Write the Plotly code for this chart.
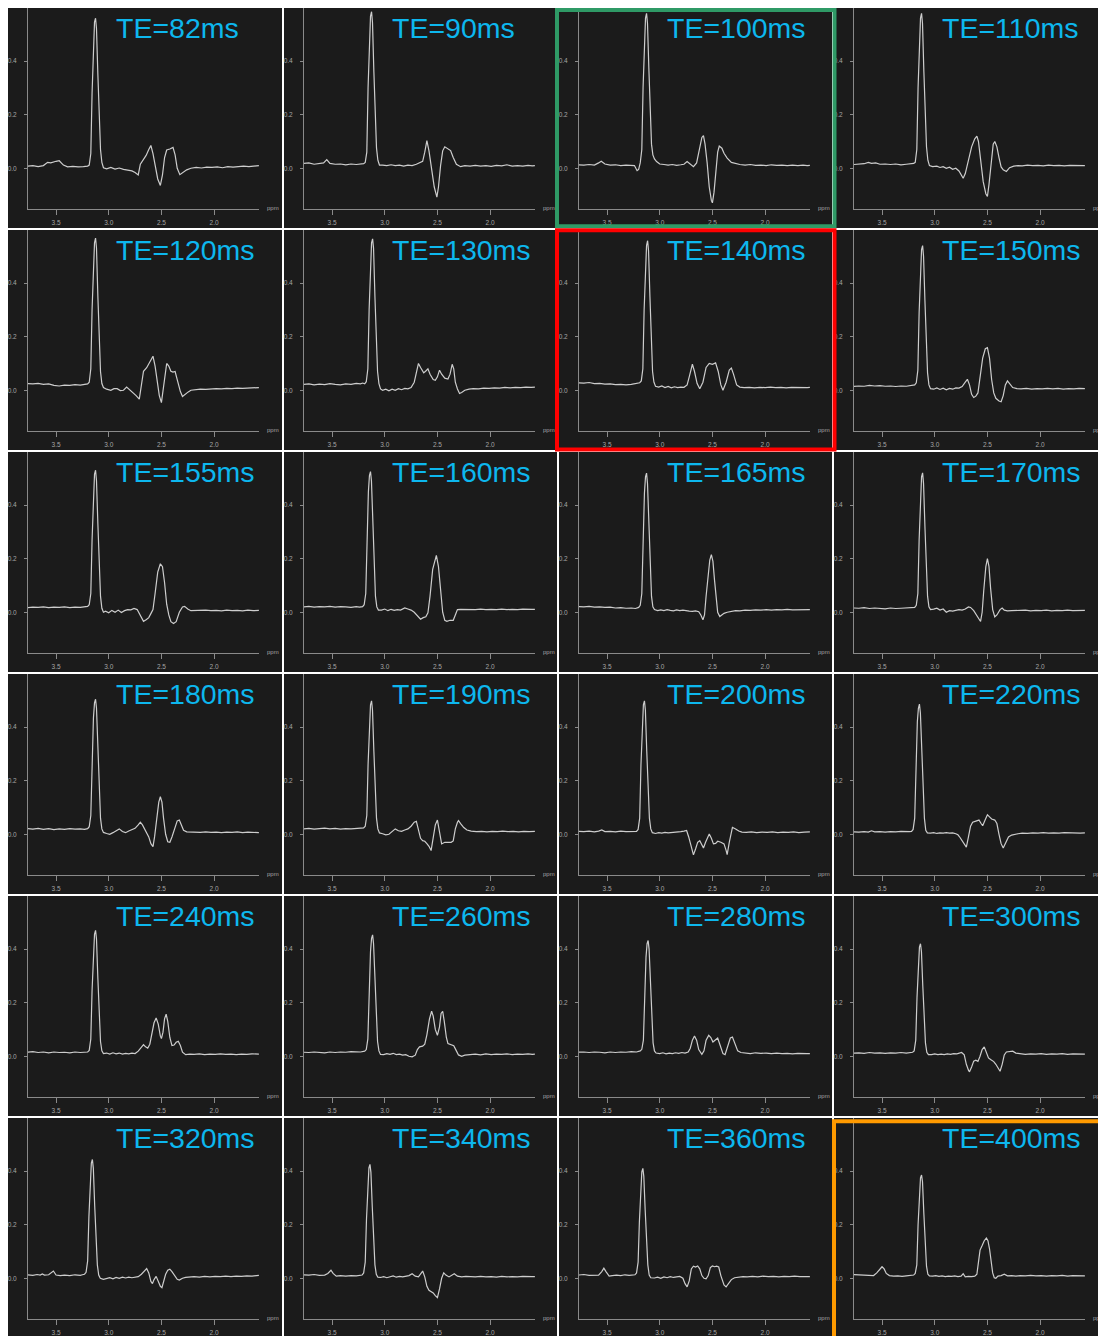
import plotly.graph_objects as go

# ---------------- data (ppm, signal) ----------------
te_labels = ["TE=82ms", "TE=90ms", "TE=100ms", "TE=110ms",
             "TE=120ms", "TE=130ms", "TE=140ms", "TE=150ms",
             "TE=155ms", "TE=160ms", "TE=165ms", "TE=170ms",
             "TE=180ms", "TE=190ms", "TE=200ms", "TE=220ms",
             "TE=240ms", "TE=260ms", "TE=280ms", "TE=300ms",
             "TE=320ms", "TE=340ms", "TE=360ms", "TE=400ms"]

x_tick_vals = [3.5, 3.0, 2.5, 2.0]
x_tick_text = ["3.5", "3.0", "2.5", "2.0"]
y_tick_vals = [0.0, 0.2, 0.4]
y_tick_text = ["0.0", "0.2", "0.4"]

spec_82 = [(3.77,0.008),(3.72,0.010),(3.67,0.006),(3.62,0.010),(3.58,0.022),(3.55,0.020),(3.50,0.026),(3.47,0.028),(3.43,0.012),(3.39,0.005),(3.34,0.007),(3.29,0.005),(3.24,0.006),
    (3.20,0.008),(3.185,0.012),(3.17,0.055),(3.158,0.28),(3.145,0.48),(3.135,0.545),(3.125,0.56),(3.116,0.52),(3.103,0.35),(3.09,0.18),(3.078,0.07),(3.065,0.022),(3.05,0.002),
    (3.02,-0.002),(2.98,0.003),(2.94,-0.003),(2.90,0.001),(2.86,-0.004),(2.82,-0.006),(2.78,-0.010),(2.75,-0.016),(2.72,-0.025),(2.70,0.015),(2.67,0.032),(2.645,0.048),(2.62,0.07),(2.60,0.085),(2.58,0.055),(2.56,0.005),(2.535,-0.04),(2.51,-0.064),(2.49,-0.025),(2.47,0.04),(2.45,0.068),(2.42,0.072),(2.39,0.078),(2.37,0.05),(2.35,0.0),(2.325,-0.024),(2.30,-0.018),(2.26,-0.006),(2.22,0.0),
    (2.17,0.003),(2.12,0.001),(2.07,0.004),(2.02,0.003),(1.97,0.005),(1.92,0.002),(1.87,0.006),(1.82,0.004),(1.77,0.005),(1.72,0.008),(1.67,0.006),(1.62,0.009),(1.575,0.010)]

spec_90 = [(3.77,0.018),(3.72,0.020),(3.67,0.015),(3.62,0.018),(3.58,0.020),(3.55,0.032),(3.52,0.018),(3.47,0.015),(3.42,0.016),(3.37,0.013),(3.32,0.016),(3.27,0.014),(3.23,0.016),(3.20,0.017),(3.185,0.022),
    (3.17,0.06),(3.158,0.30),(3.145,0.50),(3.135,0.567),(3.125,0.584),(3.116,0.543),(3.103,0.36),(3.09,0.19),(3.078,0.076),(3.065,0.03),(3.05,0.012),
    (3.02,0.012),(2.98,0.010),(2.94,0.013),(2.90,0.010),(2.86,0.012),(2.82,0.008),(2.78,0.012),(2.74,0.010),(2.70,0.015),(2.67,0.02),(2.64,0.026),(2.62,0.06),(2.60,0.103),(2.58,0.065),(2.555,-0.01),(2.53,-0.07),(2.505,-0.108),(2.49,-0.07),(2.47,0.01),(2.45,0.065),(2.43,0.08),(2.40,0.073),(2.375,0.066),(2.35,0.04),(2.32,0.015),(2.28,0.006),(2.24,0.01),
    (2.19,0.008),(2.14,0.011),(2.09,0.008),(2.04,0.010),(1.99,0.007),(1.94,0.011),(1.89,0.009),(1.84,0.013),(1.79,0.008),(1.74,0.010),(1.69,0.008),(1.64,0.011),(1.60,0.009),(1.575,0.010)]

spec_100 = [(3.77,0.013),(3.72,0.012),(3.67,0.014),(3.62,0.012),(3.58,0.020),(3.555,0.026),(3.52,0.016),(3.47,0.012),(3.42,0.013),(3.37,0.010),(3.32,0.012),(3.27,0.011),(3.24,0.010),(3.215,-0.009),(3.20,-0.004),(3.185,0.02),
    (3.17,0.07),(3.158,0.30),(3.145,0.50),(3.135,0.56),(3.125,0.578),(3.116,0.54),(3.103,0.37),(3.09,0.2),(3.078,0.09),(3.065,0.05),(3.05,0.035),
    (3.03,0.025),(3.00,0.016),(2.96,0.014),(2.92,0.012),(2.88,0.014),(2.84,0.011),(2.80,0.013),(2.77,0.015),(2.74,0.025),(2.72,0.018),(2.68,0.006),(2.65,0.02),(2.62,0.07),(2.60,0.115),(2.585,0.122),(2.57,0.09),(2.55,0.02),(2.53,-0.07),(2.51,-0.12),(2.50,-0.129),(2.485,-0.09),(2.47,-0.01),(2.45,0.06),(2.435,0.083),(2.41,0.075),(2.39,0.056),(2.36,0.038),(2.32,0.022),(2.28,0.017),(2.24,0.014),
    (2.19,0.012),(2.14,0.014),(2.09,0.011),(2.04,0.012),(1.99,0.010),(1.94,0.013),(1.89,0.011),(1.84,0.012),(1.79,0.010),(1.74,0.012),(1.69,0.010),(1.64,0.012),(1.60,0.010),(1.575,0.011)]

spec_110 = [(3.77,0.014),(3.72,0.015),(3.67,0.017),(3.63,0.022),(3.60,0.018),(3.56,0.020),(3.52,0.015),(3.47,0.016),(3.42,0.014),(3.37,0.016),(3.32,0.013),(3.27,0.015),(3.23,0.017),(3.20,0.018),(3.185,0.022),
    (3.17,0.07),(3.158,0.30),(3.145,0.50),(3.135,0.56),(3.125,0.578),(3.116,0.54),(3.103,0.36),(3.09,0.19),(3.078,0.08),(3.065,0.03),(3.05,0.01),
    (3.02,0.006),(2.98,0.008),(2.95,0.003),(2.92,0.006),(2.89,0.0),(2.86,0.004),(2.83,-0.004),(2.80,0.0),(2.77,-0.01),(2.75,-0.025),(2.73,-0.037),(2.71,-0.02),(2.68,0.03),(2.65,0.08),(2.62,0.11),(2.60,0.12),(2.585,0.1),(2.565,0.03),(2.54,-0.05),(2.515,-0.095),(2.50,-0.105),(2.485,-0.06),(2.465,0.03),(2.445,0.09),(2.43,0.10),(2.41,0.08),(2.39,0.04),(2.37,0.005),(2.35,-0.006),(2.32,-0.012),(2.29,0.002),(2.25,0.008),(2.21,0.010),
    (2.17,0.009),(2.12,0.012),(2.07,0.010),(2.02,0.011),(1.97,0.009),(1.92,0.012),(1.87,0.010),(1.82,0.011),(1.77,0.009),(1.72,0.011),(1.67,0.010),(1.62,0.009),(1.575,0.010)]

spec_120 = [(3.77,0.025),(3.72,0.024),(3.67,0.026),(3.62,0.022),(3.57,0.024),(3.52,0.018),(3.47,0.016),(3.42,0.019),(3.37,0.018),(3.32,0.021),(3.27,0.019),(3.23,0.022),(3.20,0.024),(3.185,0.03),
    (3.17,0.08),(3.158,0.30),(3.145,0.49),(3.135,0.55),(3.125,0.568),(3.116,0.53),(3.103,0.35),(3.09,0.18),(3.078,0.07),(3.065,0.025),(3.05,0.01),
    (3.02,0.004),(2.98,0.0),(2.95,0.006),(2.92,0.006),(2.89,-0.001),(2.86,0.0),(2.83,0.012),(2.80,0.002),(2.77,-0.009),(2.74,-0.02),(2.71,-0.033),(2.69,0.03),(2.67,0.071),(2.64,0.084),(2.61,0.105),(2.58,0.127),(2.56,0.09),(2.54,0.04),(2.52,-0.02),(2.50,-0.046),(2.48,0.02),(2.45,0.10),(2.43,0.09),(2.41,0.071),(2.39,0.068),(2.37,0.07),(2.35,0.04),(2.32,-0.005),(2.30,-0.023),(2.27,-0.012),(2.245,-0.006),(2.22,0.0),
    (2.18,0.002),(2.13,0.004),(2.08,0.003),(2.03,0.005),(1.98,0.006),(1.93,0.005),(1.88,0.007),(1.83,0.006),(1.78,0.008),(1.73,0.007),(1.68,0.008),(1.63,0.009),(1.575,0.010)]

spec_130 = [(3.77,0.022),(3.72,0.024),(3.67,0.020),(3.62,0.023),(3.57,0.021),(3.52,0.025),(3.47,0.022),(3.42,0.020),(3.37,0.024),(3.32,0.022),(3.27,0.026),(3.23,0.024),(3.21,0.027),
    (3.19,0.024),(3.175,0.032),(3.16,0.08),(3.148,0.30),(3.135,0.49),(3.125,0.55),(3.115,0.565),(3.106,0.53),(3.093,0.35),(3.08,0.18),(3.068,0.07),(3.055,0.025),(3.04,0.005),
    (3.02,0.0),(2.99,0.004),(2.96,-0.002),(2.93,0.004),(2.90,0.0),(2.87,0.006),(2.84,0.002),(2.81,0.007),(2.78,0.005),(2.75,0.01),(2.72,0.03),(2.70,0.07),(2.68,0.10),(2.66,0.085),(2.63,0.065),(2.61,0.072),(2.59,0.08),(2.57,0.06),(2.54,0.04),(2.52,0.037),(2.50,0.05),(2.48,0.075),(2.46,0.06),(2.43,0.045),(2.40,0.042),(2.38,0.06),(2.36,0.097),(2.345,0.08),(2.33,0.03),(2.31,0.005),(2.29,-0.012),(2.27,-0.008),(2.24,0.0),(2.20,0.004),
    (2.16,0.006),(2.11,0.005),(2.06,0.008),(2.01,0.007),(1.96,0.009),(1.91,0.008),(1.86,0.011),(1.81,0.009),(1.76,0.011),(1.71,0.010),(1.66,0.012),(1.61,0.011),(1.575,0.012)]

spec_140 = [(3.77,0.028),(3.72,0.027),(3.67,0.029),(3.62,0.025),(3.57,0.026),(3.52,0.023),(3.47,0.024),(3.42,0.021),(3.37,0.022),(3.32,0.020),(3.27,0.022),(3.23,0.024),(3.19,0.028),(3.175,0.035),
    (3.16,0.08),(3.148,0.30),(3.135,0.48),(3.125,0.54),(3.115,0.558),(3.106,0.52),(3.093,0.35),(3.08,0.18),(3.068,0.07),(3.055,0.03),(3.04,0.015),
    (3.01,0.012),(2.98,0.016),(2.95,0.010),(2.92,0.014),(2.89,0.009),(2.86,0.013),(2.83,0.010),(2.80,0.012),(2.77,0.011),(2.74,0.02),(2.72,0.05),(2.70,0.09),(2.69,0.097),(2.67,0.07),(2.645,0.025),(2.62,0.006),(2.59,0.03),(2.56,0.085),(2.53,0.10),(2.50,0.097),(2.47,0.102),(2.445,0.07),(2.42,0.02),(2.40,0.0),(2.37,0.03),(2.34,0.075),(2.32,0.083),(2.30,0.06),(2.27,0.02),(2.24,0.012),(2.20,0.010),
    (2.15,0.011),(2.10,0.009),(2.05,0.011),(2.00,0.010),(1.95,0.012),(1.90,0.010),(1.85,0.011),(1.80,0.009),(1.75,0.011),(1.70,0.010),(1.65,0.011),(1.60,0.010),(1.575,0.011)]

spec_150 = [(3.77,0.014),(3.72,0.016),(3.67,0.015),(3.62,0.018),(3.57,0.016),(3.52,0.017),(3.47,0.015),(3.42,0.016),(3.37,0.014),(3.32,0.016),(3.27,0.015),(3.23,0.017),(3.19,0.02),(3.175,0.028),
    (3.16,0.075),(3.148,0.29),(3.135,0.465),(3.125,0.525),(3.115,0.54),(3.106,0.50),(3.093,0.335),(3.08,0.17),(3.068,0.065),(3.055,0.02),(3.04,0.006),
    (3.01,0.004),(2.98,0.009),(2.95,0.003),(2.92,0.008),(2.89,0.002),(2.86,0.007),(2.83,0.004),(2.80,0.009),(2.77,0.008),(2.74,0.014),(2.71,0.03),(2.69,0.041),(2.67,0.02),(2.65,-0.015),(2.63,-0.027),(2.61,-0.022),(2.59,-0.01),(2.57,0.04),(2.545,0.12),(2.52,0.155),(2.50,0.159),(2.48,0.12),(2.46,0.04),(2.44,-0.01),(2.42,-0.03),(2.39,-0.04),(2.37,-0.043),(2.35,-0.02),(2.33,0.02),(2.31,0.035),(2.29,0.025),(2.26,0.01),(2.22,0.006),
    (2.18,0.005),(2.13,0.007),(2.08,0.004),(2.03,0.006),(1.98,0.005),(1.93,0.007),(1.88,0.005),(1.83,0.007),(1.78,0.004),(1.73,0.006),(1.68,0.005),(1.63,0.007),(1.575,0.006)]

spec_155 = [(3.77,0.017),(3.72,0.019),(3.67,0.018),(3.62,0.020),(3.57,0.017),(3.52,0.019),(3.47,0.018),(3.42,0.020),(3.37,0.017),(3.32,0.019),(3.27,0.018),(3.23,0.020),(3.20,0.022),(3.185,0.028),
    (3.17,0.07),(3.158,0.27),(3.145,0.455),(3.135,0.515),(3.125,0.53),(3.116,0.49),(3.103,0.33),(3.09,0.17),(3.078,0.06),(3.065,0.015),(3.05,0.0),
    (3.03,0.004),(3.00,-0.002),(2.97,0.007),(2.94,0.0),(2.91,0.008),(2.88,-0.001),(2.85,0.006),(2.82,0.01),(2.79,0.009),(2.76,0.014),(2.73,0.01),(2.70,-0.01),(2.67,-0.034),(2.645,-0.028),(2.62,-0.02),(2.60,-0.005),(2.58,0.01),(2.56,0.07),(2.535,0.15),(2.51,0.181),(2.49,0.17),(2.47,0.11),(2.45,0.03),(2.43,-0.01),(2.41,-0.035),(2.385,-0.042),(2.36,-0.035),(2.33,0.0),(2.30,0.02),(2.28,0.022),(2.25,0.012),(2.22,0.006),
    (2.18,0.007),(2.13,0.006),(2.08,0.008),(2.03,0.006),(1.98,0.007),(1.93,0.005),(1.88,0.008),(1.83,0.006),(1.78,0.007),(1.73,0.005),(1.68,0.008),(1.63,0.006),(1.575,0.007)]

spec_160 = [(3.77,0.020),(3.72,0.022),(3.67,0.019),(3.62,0.021),(3.57,0.020),(3.52,0.022),(3.47,0.019),(3.42,0.021),(3.37,0.020),(3.32,0.018),(3.27,0.021),(3.24,0.019),
    (3.21,0.021),(3.195,0.028),(3.18,0.07),(3.168,0.27),(3.155,0.45),(3.145,0.51),(3.135,0.525),(3.126,0.49),(3.113,0.33),(3.10,0.17),(3.088,0.06),(3.075,0.02),(3.06,0.008),
    (3.03,0.008),(3.00,0.012),(2.97,0.006),(2.94,0.011),(2.91,0.007),(2.88,0.010),(2.85,0.008),(2.81,0.016),(2.78,0.012),(2.75,0.008),(2.72,0.0),(2.69,-0.015),(2.66,-0.026),(2.635,-0.02),(2.61,-0.017),(2.59,-0.002),(2.57,0.06),(2.545,0.16),(2.52,0.205),(2.51,0.212),(2.49,0.17),(2.47,0.08),(2.45,0.0),(2.43,-0.03),(2.41,-0.034),(2.38,-0.03),(2.35,-0.03),(2.33,-0.01),(2.31,0.01),(2.28,0.011),(2.24,0.010),
    (2.19,0.011),(2.14,0.010),(2.09,0.012),(2.04,0.010),(1.99,0.011),(1.94,0.010),(1.89,0.012),(1.84,0.010),(1.79,0.011),(1.74,0.010),(1.69,0.012),(1.64,0.010),(1.60,0.011),(1.575,0.011)]

spec_165 = [(3.77,0.021),(3.72,0.020),(3.67,0.022),(3.62,0.019),(3.57,0.020),(3.52,0.018),(3.47,0.019),(3.42,0.016),(3.37,0.017),(3.32,0.015),(3.27,0.016),(3.23,0.014),(3.20,0.018),(3.185,0.026),
    (3.17,0.07),(3.158,0.27),(3.145,0.445),(3.135,0.505),(3.125,0.519),(3.116,0.48),(3.103,0.32),(3.09,0.16),(3.078,0.06),(3.065,0.02),(3.05,0.01),
    (3.02,0.006),(2.99,0.009),(2.96,0.006),(2.93,0.010),(2.90,0.007),(2.87,0.005),(2.84,0.009),(2.81,0.006),(2.78,0.008),(2.75,0.005),(2.72,0.004),(2.69,0.003),(2.66,0.005),(2.63,0.002),(2.61,-0.01),(2.59,-0.028),(2.575,-0.01),(2.56,0.06),(2.545,0.13),(2.525,0.195),(2.51,0.215),(2.495,0.19),(2.48,0.12),(2.465,0.05),(2.45,0.0),(2.43,-0.016),(2.41,-0.01),(2.39,-0.004),(2.36,0.0),(2.32,0.003),(2.28,0.006),(2.24,0.005),
    (2.19,0.008),(2.14,0.007),(2.09,0.009),(2.04,0.008),(1.99,0.010),(1.94,0.008),(1.89,0.010),(1.84,0.009),(1.79,0.011),(1.74,0.009),(1.69,0.010),(1.64,0.009),(1.60,0.010),(1.575,0.010)]

spec_170 = [(3.77,0.016),(3.72,0.015),(3.67,0.017),(3.62,0.014),(3.57,0.016),(3.52,0.015),(3.47,0.013),(3.42,0.016),(3.37,0.014),(3.32,0.015),(3.27,0.016),(3.23,0.015),(3.19,0.018),(3.175,0.026),
    (3.16,0.07),(3.148,0.27),(3.135,0.445),(3.125,0.505),(3.115,0.52),(3.106,0.48),(3.093,0.32),(3.08,0.16),(3.068,0.06),(3.055,0.02),(3.04,0.01),
    (3.01,0.012),(2.98,0.015),(2.95,0.008),(2.92,0.012),(2.89,0.0),(2.86,0.006),(2.83,0.004),(2.80,0.008),(2.77,0.010),(2.74,0.008),(2.71,0.012),(2.68,0.02),(2.66,0.018),(2.63,0.006),(2.60,-0.01),(2.58,-0.025),(2.565,-0.034),(2.55,0.0),(2.535,0.08),(2.515,0.17),(2.50,0.20),(2.485,0.17),(2.47,0.09),(2.45,0.01),(2.43,-0.017),(2.41,-0.01),(2.38,0.01),(2.36,0.016),(2.34,0.008),(2.31,0.005),(2.27,0.006),(2.23,0.007),
    (2.19,0.006),(2.14,0.008),(2.09,0.005),(2.04,0.007),(1.99,0.006),(1.94,0.008),(1.89,0.005),(1.84,0.007),(1.79,0.006),(1.74,0.008),(1.69,0.006),(1.64,0.007),(1.60,0.006),(1.575,0.007)]

spec_180 = [(3.77,0.021),(3.72,0.019),(3.67,0.022),(3.62,0.018),(3.57,0.021),(3.52,0.017),(3.47,0.020),(3.42,0.018),(3.37,0.021),(3.32,0.019),(3.27,0.020),(3.23,0.018),(3.20,0.021),(3.185,0.028),
    (3.17,0.07),(3.158,0.26),(3.145,0.435),(3.135,0.49),(3.125,0.504),(3.116,0.47),(3.103,0.31),(3.09,0.16),(3.078,0.06),(3.065,0.02),(3.05,0.007),
    (3.02,0.003),(2.99,0.0),(2.96,0.006),(2.93,0.012),(2.90,0.02),(2.87,0.01),(2.84,0.006),(2.81,0.012),(2.78,0.018),(2.75,0.022),(2.72,0.035),(2.70,0.045),(2.68,0.035),(2.65,0.015),(2.62,-0.01),(2.60,-0.035),(2.58,-0.046),(2.565,-0.01),(2.545,0.06),(2.525,0.12),(2.51,0.14),(2.495,0.12),(2.48,0.06),(2.46,0.0),(2.44,-0.028),(2.42,-0.03),(2.40,-0.01),(2.37,0.03),(2.35,0.05),(2.33,0.053),(2.31,0.035),(2.29,0.015),(2.26,0.009),(2.22,0.008),
    (2.18,0.009),(2.13,0.007),(2.08,0.009),(2.03,0.007),(1.98,0.008),(1.93,0.006),(1.88,0.008),(1.83,0.007),(1.78,0.009),(1.73,0.006),(1.68,0.008),(1.63,0.007),(1.575,0.006)]

spec_190 = [(3.77,0.020),(3.72,0.022),(3.67,0.019),(3.62,0.021),(3.57,0.023),(3.52,0.020),(3.47,0.022),(3.42,0.019),(3.37,0.021),(3.32,0.020),(3.27,0.022),(3.23,0.021),(3.20,0.024),(3.185,0.03),
    (3.17,0.07),(3.158,0.26),(3.145,0.43),(3.135,0.483),(3.125,0.498),(3.116,0.463),(3.103,0.31),(3.09,0.16),(3.078,0.06),(3.065,0.02),(3.05,0.005),
    (3.02,0.002),(2.99,-0.002),(2.96,0.0),(2.93,0.012),(2.90,0.02),(2.87,0.013),(2.84,0.011),(2.81,0.016),(2.78,0.02),(2.75,0.03),(2.72,0.045),(2.70,0.048),(2.68,0.02),(2.66,-0.015),(2.64,-0.024),(2.62,-0.026),(2.60,-0.035),(2.58,-0.045),(2.56,-0.061),(2.54,-0.02),(2.52,0.035),(2.50,0.053),(2.48,0.01),(2.46,-0.036),(2.43,-0.03),(2.40,-0.03),(2.37,-0.03),(2.35,-0.025),(2.33,0.02),(2.31,0.045),(2.30,0.051),(2.28,0.04),(2.25,0.025),(2.22,0.016),
    (2.18,0.012),(2.13,0.010),(2.08,0.011),(2.03,0.009),(1.98,0.011),(1.93,0.010),(1.88,0.012),(1.83,0.010),(1.78,0.011),(1.73,0.009),(1.68,0.011),(1.63,0.010),(1.575,0.011)]

spec_200 = [(3.77,0.011),(3.72,0.010),(3.67,0.012),(3.62,0.009),(3.58,0.012),(3.55,0.016),(3.52,0.010),(3.47,0.011),(3.42,0.009),(3.37,0.012),(3.32,0.010),(3.27,0.011),(3.24,0.010),
    (3.22,0.011),(3.205,0.018),(3.19,0.06),(3.178,0.26),(3.165,0.43),(3.155,0.483),(3.145,0.498),(3.136,0.463),(3.123,0.31),(3.11,0.16),(3.098,0.06),(3.085,0.02),(3.07,0.006),
    (3.04,0.003),(3.01,0.006),(2.98,0.004),(2.95,0.007),(2.92,0.005),(2.89,0.006),(2.86,0.008),(2.83,0.007),(2.80,0.010),(2.77,0.012),(2.745,0.014),(2.725,-0.01),(2.71,-0.036),(2.69,-0.065),(2.68,-0.077),(2.66,-0.055),(2.64,-0.03),(2.62,-0.024),(2.60,-0.04),(2.585,-0.051),(2.565,-0.03),(2.545,-0.01),(2.53,0.001),(2.51,-0.015),(2.49,-0.036),(2.47,-0.034),(2.45,-0.026),(2.42,-0.03),(2.39,-0.036),(2.37,-0.06),(2.36,-0.076),(2.34,-0.03),(2.32,0.01),(2.31,0.026),(2.28,0.02),(2.25,0.012),(2.22,0.008),
    (2.18,0.007),(2.13,0.009),(2.08,0.006),(2.03,0.008),(1.98,0.007),(1.93,0.009),(1.88,0.006),(1.83,0.008),(1.78,0.007),(1.73,0.009),(1.68,0.006),(1.63,0.008),(1.575,0.009)]

spec_220 = [(3.77,0.009),(3.72,0.008),(3.67,0.010),(3.63,0.008),(3.60,0.013),(3.57,0.009),(3.52,0.010),(3.47,0.008),(3.42,0.010),(3.37,0.009),(3.32,0.011),(3.27,0.009),(3.24,0.010),
    (3.22,0.011),(3.205,0.018),(3.19,0.06),(3.178,0.25),(3.165,0.42),(3.155,0.47),(3.145,0.486),(3.136,0.452),(3.123,0.30),(3.11,0.155),(3.098,0.06),(3.085,0.015),(3.07,0.005),
    (3.04,0.004),(3.01,0.006),(2.98,0.003),(2.95,0.005),(2.92,0.004),(2.89,0.006),(2.86,0.004),(2.83,0.005),(2.80,0.002),(2.78,-0.002),(2.76,-0.012),(2.74,-0.024),(2.72,-0.04),(2.70,-0.048),(2.68,-0.01),(2.66,0.03),(2.64,0.045),(2.62,0.048),(2.60,0.05),(2.58,0.053),(2.56,0.04),(2.545,0.032),(2.52,0.055),(2.50,0.073),(2.48,0.065),(2.46,0.057),(2.43,0.053),(2.41,0.04),(2.39,0.0),(2.37,-0.035),(2.35,-0.051),(2.33,-0.035),(2.30,-0.01),(2.27,-0.003),(2.24,0.0),(2.21,0.002),
    (2.17,0.004),(2.12,0.003),(2.07,0.005),(2.02,0.004),(1.97,0.006),(1.92,0.004),(1.87,0.005),(1.82,0.004),(1.77,0.006),(1.72,0.005),(1.67,0.006),(1.62,0.004),(1.575,0.005)]

spec_240 = [(3.77,0.015),(3.72,0.017),(3.67,0.014),(3.62,0.016),(3.57,0.013),(3.52,0.016),(3.47,0.014),(3.42,0.015),(3.37,0.013),(3.32,0.016),(3.27,0.014),(3.23,0.015),(3.20,0.016),(3.185,0.022),
    (3.17,0.065),(3.158,0.245),(3.145,0.405),(3.135,0.455),(3.125,0.47),(3.116,0.437),(3.103,0.29),(3.09,0.15),(3.078,0.055),(3.065,0.02),(3.05,0.01),
    (3.02,0.012),(2.99,0.008),(2.96,0.013),(2.93,0.009),(2.90,0.012),(2.87,0.008),(2.84,0.011),(2.81,0.009),(2.78,0.012),(2.75,0.010),(2.72,0.019),(2.69,0.035),(2.67,0.043),(2.65,0.035),(2.63,0.03),(2.61,0.045),(2.59,0.09),(2.57,0.125),(2.55,0.143),(2.53,0.12),(2.51,0.075),(2.50,0.066),(2.485,0.09),(2.47,0.14),(2.455,0.157),(2.44,0.13),(2.42,0.07),(2.40,0.04),(2.38,0.042),(2.36,0.052),(2.34,0.056),(2.32,0.04),(2.30,0.015),(2.27,0.006),(2.23,0.008),
    (2.19,0.007),(2.14,0.009),(2.09,0.006),(2.04,0.008),(1.99,0.007),(1.94,0.009),(1.89,0.007),(1.84,0.008),(1.79,0.006),(1.74,0.008),(1.69,0.007),(1.64,0.009),(1.60,0.007),(1.575,0.008)]

spec_260 = [(3.77,0.015),(3.72,0.014),(3.67,0.016),(3.62,0.015),(3.57,0.013),(3.52,0.016),(3.47,0.014),(3.42,0.016),(3.37,0.015),(3.32,0.017),(3.27,0.015),(3.23,0.016),(3.19,0.019),(3.175,0.025),
    (3.16,0.065),(3.148,0.235),(3.135,0.39),(3.125,0.44),(3.115,0.453),(3.106,0.42),(3.093,0.28),(3.08,0.145),(3.068,0.055),(3.055,0.02),(3.04,0.007),
    (3.01,0.006),(2.98,0.010),(2.95,0.007),(2.92,0.011),(2.89,0.006),(2.86,0.008),(2.83,0.004),(2.80,0.006),(2.77,0.0),(2.74,-0.002),(2.71,0.004),(2.69,0.025),(2.67,0.035),(2.64,0.038),(2.62,0.045),(2.60,0.08),(2.575,0.14),(2.555,0.168),(2.54,0.15),(2.52,0.1),(2.50,0.078),(2.48,0.11),(2.465,0.16),(2.45,0.168),(2.435,0.13),(2.415,0.07),(2.40,0.047),(2.37,0.042),(2.345,0.039),(2.32,0.02),(2.30,0.005),(2.27,0.0),(2.24,0.004),
    (2.19,0.006),(2.14,0.008),(2.09,0.005),(2.04,0.009),(1.99,0.006),(1.94,0.008),(1.89,0.007),(1.84,0.009),(1.79,0.006),(1.74,0.008),(1.69,0.007),(1.64,0.009),(1.60,0.007),(1.575,0.008)]

spec_280 = [(3.77,0.015),(3.72,0.016),(3.67,0.014),(3.62,0.016),(3.57,0.015),(3.52,0.013),(3.47,0.016),(3.42,0.014),(3.37,0.016),(3.32,0.015),(3.27,0.017),(3.22,0.016),(3.185,0.02),(3.17,0.026),
    (3.155,0.06),(3.143,0.225),(3.13,0.37),(3.12,0.42),(3.11,0.432),(3.101,0.40),(3.088,0.27),(3.075,0.14),(3.063,0.05),(3.05,0.02),(3.035,0.012),
    (3.00,0.010),(2.97,0.013),(2.94,0.009),(2.91,0.012),(2.88,0.010),(2.85,0.013),(2.82,0.011),(2.79,0.014),(2.76,0.012),(2.73,0.016),(2.71,0.03),(2.69,0.06),(2.67,0.076),(2.65,0.06),(2.63,0.025),(2.60,0.007),(2.58,0.02),(2.56,0.06),(2.535,0.078),(2.515,0.07),(2.495,0.053),(2.47,0.06),(2.45,0.068),(2.43,0.045),(2.40,0.01),(2.38,0.006),(2.36,0.03),(2.33,0.068),(2.31,0.072),(2.29,0.05),(2.26,0.02),(2.23,0.014),
    (2.19,0.012),(2.14,0.010),(2.09,0.013),(2.04,0.011),(1.99,0.012),(1.94,0.010),(1.89,0.012),(1.84,0.010),(1.79,0.011),(1.74,0.009),(1.69,0.011),(1.64,0.009),(1.60,0.010),(1.575,0.010)]

spec_300 = [(3.77,0.012),(3.72,0.013),(3.67,0.011),(3.62,0.014),(3.57,0.012),(3.52,0.013),(3.47,0.011),(3.42,0.013),(3.37,0.012),(3.32,0.014),(3.27,0.012),(3.23,0.013),(3.21,0.015),(3.195,0.02),
    (3.18,0.06),(3.168,0.22),(3.155,0.36),(3.145,0.407),(3.135,0.42),(3.126,0.39),(3.113,0.26),(3.10,0.13),(3.088,0.05),(3.075,0.015),(3.06,0.006),
    (3.03,0.006),(3.00,0.009),(2.97,0.006),(2.94,0.008),(2.91,0.006),(2.88,0.009),(2.85,0.007),(2.82,0.010),(2.79,0.009),(2.76,0.012),(2.745,0.014),(2.72,0.005),(2.70,-0.03),(2.68,-0.052),(2.67,-0.058),(2.65,-0.04),(2.63,-0.018),(2.61,-0.015),(2.59,-0.019),(2.57,0.0),(2.55,0.025),(2.53,0.035),(2.51,0.015),(2.49,-0.006),(2.47,-0.012),(2.44,-0.02),(2.42,-0.03),(2.40,-0.045),(2.38,-0.056),(2.36,-0.03),(2.34,0.005),(2.32,0.016),(2.29,0.018),(2.26,0.019),(2.23,0.012),
    (2.19,0.009),(2.14,0.007),(2.09,0.009),(2.04,0.008),(1.99,0.010),(1.94,0.007),(1.89,0.009),(1.84,0.008),(1.79,0.010),(1.74,0.007),(1.69,0.009),(1.64,0.008),(1.60,0.009),(1.575,0.008)]

spec_320 = [(3.77,0.013),(3.72,0.011),(3.68,0.014),(3.65,0.012),(3.63,0.016),(3.61,0.012),(3.57,0.013),(3.545,0.02),(3.525,0.027),(3.50,0.012),(3.46,0.010),(3.42,0.012),(3.37,0.010),(3.32,0.013),(3.27,0.011),(3.25,0.013),
    (3.23,0.015),(3.215,0.022),(3.20,0.065),(3.188,0.23),(3.175,0.38),(3.165,0.43),(3.155,0.443),(3.146,0.41),(3.133,0.27),(3.12,0.14),(3.108,0.05),(3.095,0.012),(3.08,0.0),
    (3.05,-0.004),(3.02,-0.001),(2.99,0.002),(2.96,-0.002),(2.93,0.003),(2.90,0.0),(2.87,0.004),(2.84,0.001),(2.81,0.004),(2.78,0.002),(2.75,0.004),(2.72,0.006),(2.69,0.015),(2.66,0.03),(2.64,0.036),(2.62,0.02),(2.60,-0.012),(2.585,-0.02),(2.57,-0.005),(2.55,0.007),(2.53,-0.01),(2.51,-0.03),(2.495,-0.035),(2.48,-0.015),(2.46,0.015),(2.44,0.03),(2.42,0.034),(2.40,0.025),(2.37,0.005),(2.35,-0.004),(2.33,-0.007),(2.30,0.0),(2.27,0.003),(2.23,0.004),
    (2.19,0.006),(2.14,0.004),(2.09,0.007),(2.04,0.005),(1.99,0.007),(1.94,0.006),(1.89,0.008),(1.84,0.006),(1.79,0.008),(1.74,0.007),(1.69,0.009),(1.64,0.008),(1.60,0.010),(1.575,0.011)]

spec_340 = [(3.77,0.013),(3.72,0.012),(3.67,0.014),(3.62,0.011),(3.57,0.012),(3.54,0.018),(3.51,0.03),(3.49,0.018),(3.46,0.008),(3.42,0.010),(3.37,0.008),(3.32,0.010),(3.27,0.009),(3.235,0.011),
    (3.215,0.012),(3.20,0.02),(3.185,0.06),(3.173,0.22),(3.16,0.365),(3.15,0.412),(3.14,0.425),(3.131,0.395),(3.118,0.265),(3.105,0.135),(3.093,0.05),(3.08,0.015),(3.065,0.004),
    (3.04,0.003),(3.01,0.006),(2.98,0.002),(2.95,0.005),(2.92,0.009),(2.89,0.004),(2.86,0.007),(2.83,0.005),(2.80,0.008),(2.77,0.010),(2.74,0.017),(2.71,0.008),(2.68,0.005),(2.66,0.018),(2.64,0.027),(2.62,0.005),(2.60,-0.03),(2.58,-0.045),(2.56,-0.05),(2.54,-0.055),(2.52,-0.065),(2.50,-0.072),(2.48,-0.04),(2.46,0.0),(2.44,0.02),(2.42,0.012),(2.39,0.005),(2.37,0.01),(2.34,0.017),(2.31,0.008),(2.27,0.005),(2.23,0.007),
    (2.19,0.006),(2.14,0.005),(2.09,0.007),(2.04,0.005),(1.99,0.006),(1.94,0.004),(1.89,0.007),(1.84,0.005),(1.79,0.006),(1.74,0.005),(1.69,0.007),(1.64,0.005),(1.60,0.006),(1.575,0.006)]

spec_360 = [(3.77,0.012),(3.72,0.014),(3.67,0.011),(3.62,0.013),(3.58,0.012),(3.55,0.025),(3.53,0.038),(3.51,0.025),(3.48,0.008),(3.45,0.01),(3.41,0.012),(3.37,0.01),(3.33,0.013),(3.29,0.011),(3.26,0.013),
    (3.235,0.013),(3.22,0.02),(3.205,0.06),(3.193,0.21),(3.18,0.35),(3.17,0.397),(3.16,0.41),(3.151,0.38),(3.138,0.255),(3.125,0.13),(3.113,0.05),(3.10,0.012),(3.085,0.002),
    (3.05,0.001),(3.02,0.004),(2.99,0.0),(2.96,0.005),(2.93,0.002),(2.90,0.006),(2.87,0.003),(2.84,0.006),(2.81,0.007),(2.78,0.0),(2.76,-0.02),(2.74,-0.032),(2.72,-0.01),(2.70,0.035),(2.68,0.045),(2.66,0.042),(2.64,0.046),(2.62,0.035),(2.60,0.01),(2.58,0.0),(2.56,-0.002),(2.54,0.01),(2.52,0.04),(2.50,0.046),(2.48,0.043),(2.46,0.045),(2.44,0.042),(2.42,0.01),(2.39,-0.025),(2.37,-0.032),(2.35,-0.02),(2.32,-0.005),(2.29,0.002),(2.25,0.004),(2.21,0.006),
    (2.17,0.005),(2.12,0.007),(2.07,0.005),(2.02,0.008),(1.97,0.006),(1.92,0.007),(1.87,0.005),(1.82,0.007),(1.77,0.006),(1.72,0.008),(1.67,0.006),(1.62,0.007),(1.575,0.006)]

spec_400 = [(3.77,0.014),(3.72,0.013),(3.67,0.011),(3.62,0.012),(3.58,0.010),(3.55,0.020),(3.52,0.035),(3.50,0.043),(3.48,0.035),(3.46,0.018),(3.43,0.010),(3.39,0.008),(3.35,0.009),(3.31,0.007),(3.27,0.009),(3.23,0.010),
    (3.20,0.012),(3.185,0.018),(3.17,0.05),(3.158,0.2),(3.145,0.33),(3.135,0.375),(3.125,0.385),(3.116,0.36),(3.103,0.24),(3.09,0.12),(3.078,0.045),(3.065,0.015),(3.05,0.009),
    (3.02,0.008),(2.99,0.010),(2.96,0.007),(2.93,0.009),(2.90,0.006),(2.87,0.008),(2.84,0.007),(2.81,0.009),(2.78,0.006),(2.75,0.008),(2.73,0.017),(2.71,0.005),(2.68,0.007),(2.65,0.006),(2.62,0.008),(2.60,0.015),(2.585,0.06),(2.57,0.105),(2.55,0.122),(2.53,0.14),(2.51,0.15),(2.495,0.14),(2.48,0.11),(2.465,0.06),(2.45,0.02),(2.435,0.002),(2.42,0.0),(2.40,0.008),(2.37,0.01),(2.34,0.015),(2.31,0.009),(2.27,0.010),(2.23,0.008),
    (2.19,0.010),(2.14,0.009),(2.09,0.011),(2.04,0.009),(1.99,0.010),(1.94,0.008),(1.89,0.010),(1.84,0.009),(1.79,0.011),(1.74,0.008),(1.69,0.010),(1.64,0.009),(1.60,0.008),(1.575,0.009)]

spectra = [spec_82, spec_90, spec_100, spec_110,
           spec_120, spec_130, spec_140, spec_150,
           spec_155, spec_160, spec_165, spec_170,
           spec_180, spec_190, spec_200, spec_220,
           spec_240, spec_260, spec_280, spec_300,
           spec_320, spec_340, spec_360, spec_400]

# ---------------- layout geometry (page pixels) ----------------
FIG_W, FIG_H = 1098, 1328
OFF = 8  # default body margin of the html page

col_x0 = [8, 284, 559, 834]
col_x1 = [282, 557, 832, 1106]
row_y0 = [8, 230, 452, 674, 896, 1118]
row_y1 = [228, 450, 672, 894, 1116, 1336]

def xp(px):
    return (px - OFF) / FIG_W

def yp(py):
    return 1 - (py - OFF) / FIG_H

BG = "#1b1b1b"
AX = "#8a8a8a"
TICKC = "#a5a5a5"
TRACE = "#cdcdcd"
TITLE_C = "#0db7ee"

fig = go.Figure()
shapes = []
annotations = []
layout_axes = {}

for i, (label, spec) in enumerate(zip(te_labels, spectra)):
    r, c = divmod(i, 4)
    n = i + 1
    sx = "" if n == 1 else str(n)
    x0p, x1p = col_x0[c], col_x1[c]
    y0p, y1p = row_y0[r], row_y1[r]

    shapes.append(dict(type="rect", xref="paper", yref="paper", layer="below",
                       x0=xp(x0p), x1=xp(x1p), y0=yp(y1p), y1=yp(y0p),
                       fillcolor=BG, line=dict(width=0)))

    layout_axes["xaxis" + sx] = dict(
        domain=[xp(x0p + 20), xp(x0p + 251)], anchor="y" + sx,
        range=[3.766, 1.574], showgrid=False, zeroline=False,
        showline=True, linecolor=AX, linewidth=1,
        ticks="outside", ticklen=5, tickwidth=1, tickcolor=AX,
        tickvals=x_tick_vals, ticktext=x_tick_text,
        tickfont=dict(size=6.5, color=TICKC, family="Liberation Sans"),
        ticklabelstandoff=2, fixedrange=True)
    layout_axes["yaxis" + sx] = dict(
        domain=[yp(y0p + 201), yp(y0p)], anchor="x" + sx,
        range=[-0.152, 0.598], showgrid=False, zeroline=False,
        showline=True, linecolor=AX, linewidth=1,
        ticks="outside", ticklen=3, tickwidth=1, tickcolor=AX,
        tickvals=y_tick_vals, ticktext=y_tick_text,
        tickfont=dict(size=6.5, color=TICKC, family="Liberation Sans"),
        ticklabelstandoff=6, fixedrange=True)

    fig.add_trace(go.Scatter(
        x=[p[0] for p in spec], y=[p[1] for p in spec],
        mode="lines", line=dict(color=TRACE, width=1.2),
        xaxis="x" + sx, yaxis="y" + sx, showlegend=False, hoverinfo="skip"))

    annotations.append(dict(text=label, xref="paper", yref="paper",
                            x=xp(x0p + 106), y=yp(y0p + 20),
                            xanchor="left", yanchor="middle", showarrow=False,
                            font=dict(size=28.5, color=TITLE_C, family="Liberation Sans")))
    annotations.append(dict(text="ppm", xref="paper", yref="paper",
                            x=xp(x0p + 265), y=yp(y0p + 200),
                            xanchor="center", yanchor="middle", showarrow=False,
                            font=dict(size=6, color=TICKC, family="Liberation Sans")))

# highlight frames
frames = [((557, 10, 834.5, 226.3), "#2f9a66"),
          ((557, 230.3, 834.5, 449.5), "#ff0000"),
          ((834, 1121.3, 1112, 1345), "#ff9a00")]
for (a, b, cc, d), col in frames:
    shapes.append(dict(type="rect", xref="paper", yref="paper", layer="above",
                       x0=xp(a), x1=xp(cc), y0=yp(d), y1=yp(b),
                       fillcolor="rgba(0,0,0,0)", line=dict(color=col, width=4)))

fig.update_layout(width=FIG_W, height=FIG_H, margin=dict(l=0, r=0, t=0, b=0),
                  paper_bgcolor="white", plot_bgcolor=BG, showlegend=False,
                  shapes=shapes, annotations=annotations, **layout_axes)

fig.write_html("out.html")
